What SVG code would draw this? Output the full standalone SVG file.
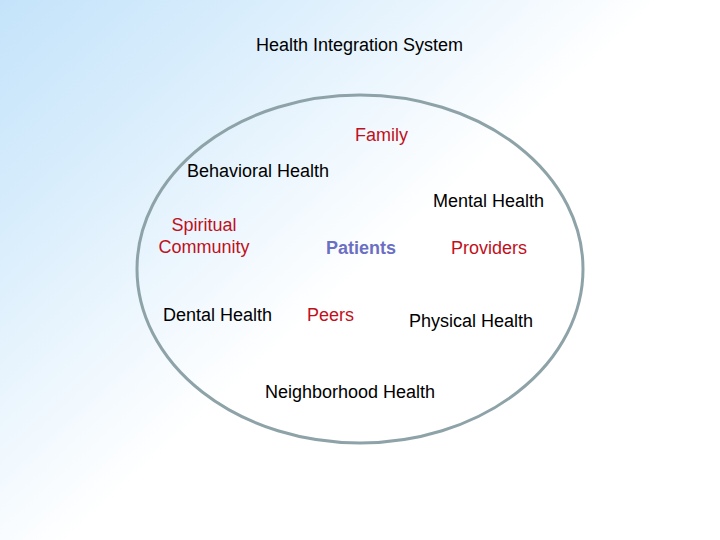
<svg xmlns="http://www.w3.org/2000/svg" width="720" height="540" viewBox="0 0 720 540">
  <defs>
    <linearGradient id="bg" gradientUnits="userSpaceOnUse" x1="0" y1="0" x2="300" y2="330">
      <stop offset="0" stop-color="#c4e3fa"/>
      <stop offset="0.35" stop-color="#d6ecfc"/>
      <stop offset="1" stop-color="#ffffff"/>
    </linearGradient>
    <style>
      text { font-family: "Liberation Sans", Arial, sans-serif; font-size: 18px; }
      .black { fill: #000000; }
      .red { fill: #c0101c; }
      .blue { fill: #6b6fc4; font-weight: bold; }
      .ring { fill: none; stroke: #8ea3a8; stroke-width: 3; }
    </style>
  </defs>
  <rect x="0" y="0" width="720" height="540" fill="url(#bg)"/>
  <g id="title">
    <text class="black" x="256" y="51">Health Integration System</text>
  </g>
  <g id="system">
    <ellipse class="ring" cx="360" cy="269" rx="223" ry="174"/>
  </g>
  <g id="family"><text class="red" x="355" y="141">Family</text></g>
  <g id="behavioral"><text class="black" x="187" y="177">Behavioral Health</text></g>
  <g id="mental"><text class="black" x="433" y="207">Mental Health</text></g>
  <g id="spiritual">
    <text class="red" x="204" y="231" text-anchor="middle">Spiritual</text>
    <text class="red" x="204" y="253" text-anchor="middle">Community</text>
  </g>
  <g id="patients"><text class="blue" x="326" y="254">Patients</text></g>
  <g id="providers"><text class="red" x="451" y="254">Providers</text></g>
  <g id="dental"><text class="black" x="163" y="321">Dental Health</text></g>
  <g id="peers"><text class="red" x="307" y="321">Peers</text></g>
  <g id="physical"><text class="black" x="409" y="327">Physical Health</text></g>
  <g id="neighborhood"><text class="black" x="265" y="398">Neighborhood Health</text></g>
  <g id="connectors"></g>
</svg>
